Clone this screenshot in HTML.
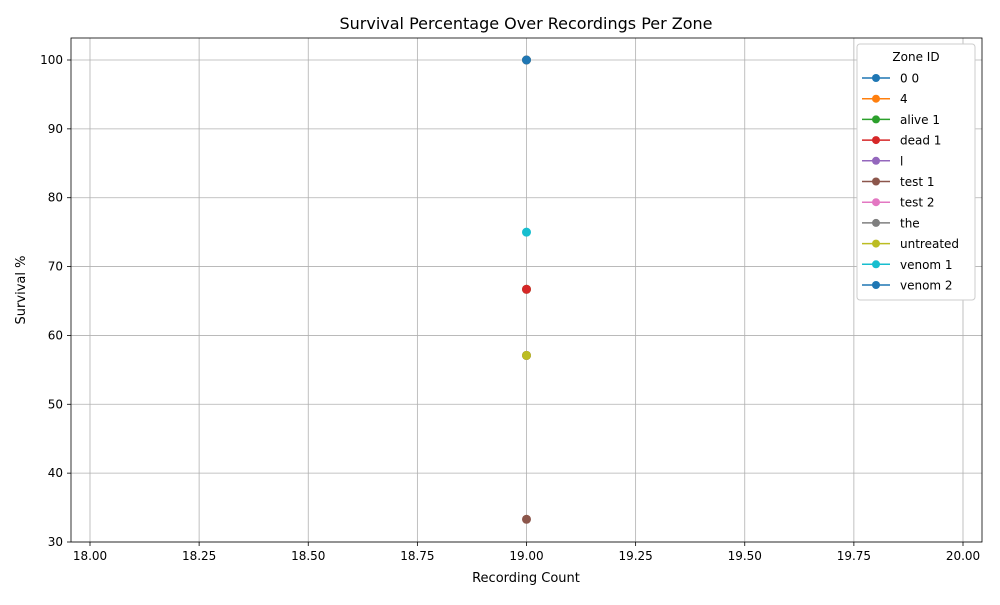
<!DOCTYPE html>
<html><head><meta charset="utf-8"><style>
body{margin:0;background:#fff;font-family:"Liberation Sans","DejaVu Sans",sans-serif}
svg text{font-family:"DejaVu Sans","Liberation Sans",sans-serif}
</style></head><body>
<svg id="c" width="1000" height="600" xmlns="http://www.w3.org/2000/svg">
<rect width="1000" height="600" fill="#fff"/>
<g id="grid"></g><g id="ticks"></g><g id="marks"></g>
<rect x="71" y="38" width="911" height="504" fill="none" stroke="#000" stroke-width="0.8"/>
<text x="526" y="29" font-size="16" text-anchor="middle">Survival Percentage Over Recordings Per Zone</text>
<text x="526" y="582" font-size="13" text-anchor="middle">Recording Count</text>
<text x="25" y="290" font-size="13" text-anchor="middle" transform="rotate(-90 25 290)">Survival %</text>
<g id="legend"></g>
</svg>
<script>
const zones=["0 0","4","alive 1","dead 1","l","test 1","test 2","the","untreated","venom 1","venom 2"];
const recordingCounts=[19,19,19,19,19,19,19,19,19,19,19];
const survival=[100,100,66.7,66.7,57.1,33.3,57.1,57.1,57.1,75,100];
const colors=["#1f77b4","#ff7f0e","#2ca02c","#d62728","#9467bd","#8c564b","#e377c2","#7f7f7f","#bcbd22","#17becf","#1f77b4"];
const xTicks=[18,18.25,18.5,18.75,19,19.25,19.5,19.75,20];
const xTickLabels=["18.00","18.25","18.50","18.75","19.00","19.25","19.50","19.75","20.00"];
const yTicks=[30,40,50,60,70,80,90,100];
const NS="http://www.w3.org/2000/svg";
const L=71,R=982,T=38,B=542;
const xMin=18-19/436.5,xMax=20+19/436.5,yMin=30,yMax=100+22/6.886;
const X=v=>L+(v-xMin)/(xMax-xMin)*(R-L);
const Y=v=>B-(v-yMin)/(yMax-yMin)*(B-T);
function el(t,a,p){const e=document.createElementNS(NS,t);for(const k in a)e.setAttribute(k,a[k]);document.getElementById(p).appendChild(e);return e;}
xTicks.forEach((v,i)=>{
 const g=el("line",{x1:X(v),x2:X(v),y1:T,y2:B,stroke:"#b0b0b0","stroke-width":0.8},"grid");
 
 
 el("line",{x1:X(v),x2:X(v),y1:B,y2:B+4,stroke:"#000","stroke-width":0.8},"ticks");
 const t=el("text",{x:X(v),y:B+18,"font-size":12,"text-anchor":"middle"},"ticks");
 t.textContent=xTickLabels[i];
 
 
});
yTicks.forEach(v=>{
 const g=el("line",{x1:L,x2:R,y1:Y(v),y2:Y(v),stroke:"#b0b0b0","stroke-width":0.8},"grid");
 
 
 el("line",{x1:L-4,x2:L,y1:Y(v),y2:Y(v),stroke:"#000","stroke-width":0.8},"ticks");
 const t=el("text",{x:L-8,y:Y(v)+4,"font-size":12,"text-anchor":"end"},"ticks");
 t.textContent=v;
 
 
});
zones.forEach((z,i)=>{
 const c=el("circle",{cx:X(recordingCounts[i]),cy:Y(survival[i]),r:4.5,fill:colors[i]},"marks");
 
 
});
const lg=el("rect",{x:857,y:44,width:118,height:256,fill:"#fff",stroke:"#ccc",rx:3},"legend");


const lt=el("text",{x:916,y:61,"font-size":12,"text-anchor":"middle"},"legend");
lt.textContent="Zone ID";


zones.forEach((z,i)=>{
 const y=78+i*20.7;
 el("line",{x1:862,x2:890,y1:y,y2:y,stroke:colors[i],"stroke-width":1.5},"legend");
 el("circle",{cx:876,cy:y,r:4,fill:colors[i]},"legend");
 const t=el("text",{x:900,y:y+4.5,"font-size":12},"legend");
 t.textContent=z;
 
 
});
</script>
</body></html>
